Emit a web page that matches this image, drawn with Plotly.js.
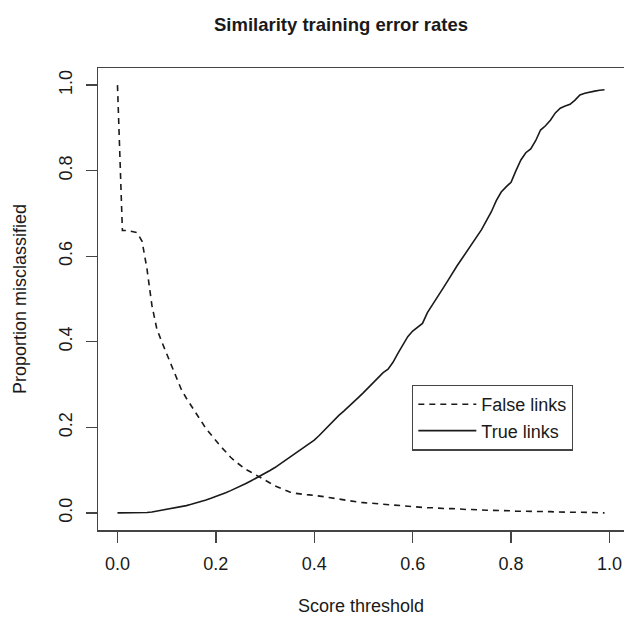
<!DOCTYPE html>
<html>
<head>
<meta charset="utf-8">
<script src="https://cdn.plot.ly/plotly-3.0.1.min.js"></script>
<style>html,body{margin:0;padding:0;background:#fff;}#chart{width:624px;height:618px;}</style>
</head>
<body>
<div id="chart"></div>
<script>
// Score thresholds 0.00 .. 0.99 (step 0.01)
const thresholds = [
0.00,0.01,0.02,0.03,0.04,0.05,0.06,0.07,0.08,0.09,
0.10,0.11,0.12,0.13,0.14,0.15,0.16,0.17,0.18,0.19,
0.20,0.21,0.22,0.23,0.24,0.25,0.26,0.27,0.28,0.29,
0.30,0.31,0.32,0.33,0.34,0.35,0.36,0.37,0.38,0.39,
0.40,0.41,0.42,0.43,0.44,0.45,0.46,0.47,0.48,0.49,
0.50,0.51,0.52,0.53,0.54,0.55,0.56,0.57,0.58,0.59,
0.60,0.61,0.62,0.63,0.64,0.65,0.66,0.67,0.68,0.69,
0.70,0.71,0.72,0.73,0.74,0.75,0.76,0.77,0.78,0.79,
0.80,0.81,0.82,0.83,0.84,0.85,0.86,0.87,0.88,0.89,
0.90,0.91,0.92,0.93,0.94,0.95,0.96,0.97,0.98,0.99];

const falseLinks = [
1.000,0.660,0.660,0.658,0.655,0.635,0.570,0.485,0.430,0.400,
0.372,0.345,0.315,0.288,0.268,0.250,0.232,0.213,0.197,0.183,
0.168,0.155,0.143,0.130,0.120,0.110,0.102,0.096,0.090,0.083,
0.077,0.070,0.063,0.058,0.053,0.049,0.046,0.044,0.043,0.042,
0.041,0.040,0.038,0.036,0.034,0.032,0.030,0.028,0.026,0.025,
0.024,0.023,0.022,0.021,0.020,0.019,0.018,0.017,0.016,0.015,
0.015,0.014,0.013,0.012,0.012,0.011,0.011,0.010,0.010,0.009,
0.009,0.008,0.008,0.007,0.007,0.006,0.006,0.006,0.005,0.005,
0.005,0.004,0.004,0.004,0.004,0.003,0.003,0.003,0.003,0.002,
0.002,0.002,0.002,0.002,0.001,0.001,0.001,0.001,0.000,0.000];

const trueLinks = [
0.000,0.000,0.000,0.000,0.000,0.001,0.001,0.002,0.004,0.006,
0.008,0.010,0.012,0.014,0.017,0.020,0.023,0.026,0.030,0.034,
0.038,0.043,0.047,0.052,0.057,0.062,0.068,0.074,0.080,0.087,
0.092,0.099,0.106,0.114,0.122,0.130,0.137,0.144,0.152,0.160,
0.170,0.181,0.193,0.206,0.218,0.228,0.238,0.248,0.259,0.270,
0.281,0.293,0.305,0.318,0.328,0.336,0.352,0.373,0.392,0.412,
0.425,0.434,0.443,0.468,0.487,0.505,0.522,0.540,0.560,0.577,
0.594,0.611,0.628,0.644,0.662,0.683,0.704,0.730,0.750,0.762,
0.773,0.800,0.825,0.842,0.851,0.870,0.895,0.905,0.918,0.935,
0.946,0.951,0.955,0.965,0.977,0.981,0.984,0.986,0.988,0.989];

const tickVals = [0, 0.2, 0.4, 0.6, 0.8, 1.0];
const tickText = ["0.0", "0.2", "0.4", "0.6", "0.8", "1.0"];

const font = "Liberation Sans, Arial, Helvetica, sans-serif";
const ink = "#1a1a1a";

const traces = [
  {x: thresholds, y: falseLinks, type: "scatter", mode: "lines", name: "False links",
   line: {color: ink, width: 1.6, dash: "6px,5px"}},
  {x: thresholds, y: trueLinks, type: "scatter", mode: "lines", name: "True links",
   line: {color: ink, width: 1.6}}
];

const layout = {
  width: 624, height: 618,
  paper_bgcolor: "#fff", plot_bgcolor: "#fff",
  margin: {l: 98, r: 0, t: 68, b: 88, pad: 0},
  font: {family: font, size: 18, color: ink},
  title: {text: "<b>Similarity training error rates</b>", xref: "container", x: 0.5465, xanchor: "center",
          yref: "container", y: 1 - 25/618, yanchor: "middle", font: {family: font, size: 18.5, color: ink}},
  xaxis: {range: [-0.0396, 1.0296], tickvals: tickVals, ticktext: tickText,
          ticks: "outside", ticklen: 11, tickwidth: 1.3, tickcolor: "#444",
          showline: true, mirror: true, linecolor: "#444", linewidth: 1.5,
          showgrid: false, zeroline: false, ticklabelstandoff: 6,
          title: {text: "Score threshold", standoff: 26, font: {family: font, size: 18, color: ink}}},
  yaxis: {range: [-0.04, 1.04], tickvals: tickVals, ticktext: tickText, tickangle: -90,
          ticks: "outside", ticklen: 11, tickwidth: 1.3, tickcolor: "#444",
          showline: true, mirror: false, linecolor: "#444", linewidth: 1.5,
          showgrid: false, zeroline: false, ticklabelstandoff: 6,
          title: {text: "Proportion misclassified", standoff: 25, font: {family: font, size: 18, color: ink}}},
  showlegend: true,
  legend: {x: 0.597, y: 0.3145, xanchor: "left", yanchor: "top",
           bordercolor: "#444", borderwidth: 1.3, bgcolor: "#fff",
           font: {family: font, size: 18, color: ink}, itemwidth: 58, tracegroupgap: 0}
};

Plotly.newPlot("chart", traces, layout, {staticPlot: true, displayModeBar: false});
</script>
</body>
</html>
